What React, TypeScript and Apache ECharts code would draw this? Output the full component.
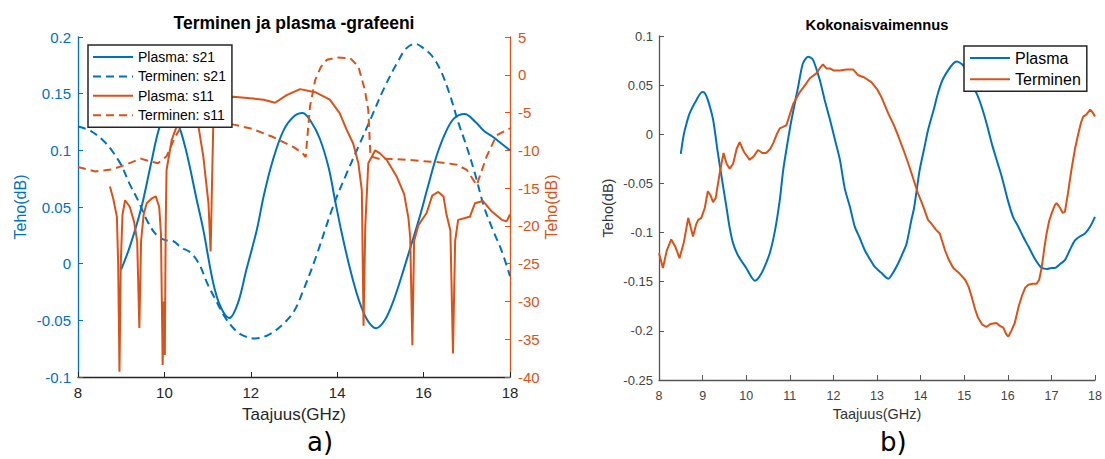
import React, { useEffect, useRef } from 'react';
import * as echarts from 'echarts';

const BLUE = '#0072BD';
const ORANGE = '#D95319';
const DARK = '#262626';
const FONT = '"Liberation Sans", Arial, Helvetica, sans-serif';

// ---------- Chart a) : Terminen ja plasma -grafeeni ----------
const plasmaS21X = [9.0, 9.2, 9.47, 9.7, 9.9, 10.1, 10.3, 10.5, 10.75, 10.9, 11.13, 11.3, 11.5, 11.7, 11.9, 12.14, 12.3, 12.5, 12.75, 13.0, 13.2, 13.4, 13.6, 13.8, 13.95, 14.1, 14.3, 14.5, 14.7, 14.9, 15.1, 15.3, 15.5, 15.7, 15.9, 16.1, 16.3, 16.5, 16.7, 16.95, 17.2, 17.4, 17.6, 17.8, 18.0];
const plasmaS21Y = [-0.005, 0.015, 0.05, 0.09, 0.122, 0.135, 0.125, 0.1, 0.056, 0.03, -0.017, -0.038, -0.048, -0.035, -0.005, 0.03, 0.06, 0.09, 0.117, 0.13, 0.133, 0.125, 0.11, 0.085, 0.056, 0.028, -0.005, -0.032, -0.05, -0.057, -0.05, -0.033, -0.01, 0.015, 0.04, 0.068, 0.095, 0.115, 0.128, 0.132, 0.125, 0.117, 0.112, 0.106, 0.1];

const terminenS21X = [8.0, 8.3, 8.6, 8.8, 9.0, 9.2, 9.4, 9.6, 9.8, 10.0, 10.2, 10.4, 10.6, 10.8, 11.0, 11.2, 11.4, 11.6, 11.8, 12.1, 12.4, 12.7, 13.0, 13.2, 13.5, 13.9, 14.2, 14.5, 14.8, 15.1, 15.4, 15.6, 15.8, 16.0, 16.2, 16.4, 16.6, 16.8, 17.0, 17.2, 17.4, 17.6, 17.8, 18.0];
const terminenS21Y = [0.121, 0.117, 0.108, 0.099, 0.087, 0.07, 0.055, 0.038, 0.026, 0.021, 0.02, 0.014, 0.01, 0.0, -0.018, -0.033, -0.047, -0.057, -0.063, -0.066, -0.063, -0.055, -0.042, -0.025, 0.005, 0.05, 0.078, 0.104, 0.13, 0.156, 0.178, 0.19, 0.194, 0.19, 0.183, 0.17, 0.15, 0.125, 0.103, 0.078, 0.05, 0.03, 0.012, -0.011];

const plasmaS11X = [8.74, 8.82, 8.9, 8.93, 8.96, 8.99, 9.03, 9.09, 9.2, 9.3, 9.37, 9.42, 9.46, 9.52, 9.59, 9.7, 9.8, 9.88, 9.92, 9.96, 9.98, 10.01, 10.03, 10.05, 10.17, 10.28, 10.4, 10.55, 10.7, 10.79, 10.9, 11.02, 11.07, 11.1, 11.13, 11.3, 11.6, 11.98, 12.3, 12.56, 12.83, 13.14, 13.49, 13.83, 14.06, 14.22, 14.37, 14.49, 14.57, 14.61, 14.65, 14.72, 14.88, 14.99, 15.15, 15.38, 15.55, 15.65, 15.69, 15.74, 15.78, 15.88, 16.07, 16.2, 16.34, 16.46, 16.53, 16.62, 16.68, 16.73, 16.8, 17.0, 17.07, 17.19, 17.37, 17.58, 17.81, 17.92, 18.0];
const plasmaS11Y = [-14.8, -16.5, -18.8, -25, -39.3, -25, -18.5, -16.6, -17.5, -19.5, -22, -33.5, -22, -18.5, -17.0, -16.4, -16.1, -17.5, -21, -38.4, -30, -37.1, -20, -12.6, -8.6, -6.9, -5.0, -4.3, -5.5, -6.9, -10.8, -17.0, -23.4, -15, -6.9, -3.5, -2.9, -3.1, -3.3, -3.7, -2.7, -1.9, -2.3, -3.3, -5.1, -7.3, -9.1, -11.7, -15.3, -33.2, -20, -11.7, -10.0, -10.4, -11.3, -13.5, -15.8, -19, -21.5, -35.8, -22, -19.9, -18.3, -16.0, -15.5, -16.1, -18.5, -20.6, -36.9, -22, -19.2, -18.9, -18.8, -17.0, -16.7, -18.1, -19.2, -19.4, -18.5];

const terminenS11X = [8.0, 8.4, 8.8, 9.1, 9.45, 9.7, 9.85, 10.05, 10.25, 10.45, 10.7, 11.0, 11.3, 11.6, 12.0, 12.5, 13.0, 13.2, 13.27, 13.37, 13.49, 13.62, 13.76, 14.0, 14.3, 14.49, 14.64, 14.72, 14.77, 14.95, 15.5, 15.92, 16.4, 16.77, 17.0, 17.23, 17.46, 17.69, 18.0];
const terminenS11Y = [-12.2, -12.8, -12.5, -11.9, -11.1, -11.5, -11.7, -10.8, -8.2, -6.3, -5.6, -5.6, -6.0, -6.6, -7.1, -8.2, -9.6, -10.4, -10.9, -4.2, -0.7, 1.0, 2.0, 2.3, 2.2, 1.1, -2.0, -4.7, -10.8, -11.1, -11.2, -11.4, -11.6, -11.9, -12.6, -14.6, -10.8, -8.0, -7.1];

const leftTicksLeft = { min: -0.1, max: 0.2, interval: 0.05 };
const leftTicksRight = { min: -40, max: 5, interval: 5 };

// ---------- Chart b) : Kokonaisvaimennus ----------
const plasmaTotX = [8.5, 8.55, 8.59, 8.7, 8.86, 8.99, 9.05, 9.12, 9.24, 9.35, 9.47, 9.55, 9.62, 9.7, 9.81, 10.0, 10.2, 10.3, 10.39, 10.54, 10.66, 10.77, 10.85, 10.95, 11.04, 11.19, 11.3, 11.42, 11.53, 11.69, 11.8, 11.92, 12.05, 12.15, 12.26, 12.38, 12.49, 12.6, 12.72, 12.85, 12.95, 13.1, 13.26, 13.38, 13.49, 13.6, 13.68, 13.79, 13.85, 13.98, 14.08, 14.17, 14.3, 14.4, 14.5, 14.63, 14.75, 14.83, 14.98, 15.08, 15.17, 15.3, 15.4, 15.52, 15.63, 15.75, 15.86, 16.0, 16.12, 16.24, 16.35, 16.47, 16.6, 16.7, 16.78, 16.9, 17.0, 17.08, 17.2, 17.31, 17.42, 17.54, 17.65, 17.77, 17.9, 18.0];
const plasmaTotY = [-0.02, -0.005, 0.004, 0.021, 0.035, 0.043, 0.042, 0.035, 0.015, -0.019, -0.053, -0.075, -0.095, -0.111, -0.123, -0.136, -0.149, -0.145, -0.138, -0.121, -0.098, -0.067, -0.036, -0.008, 0.015, 0.048, 0.072, 0.079, 0.076, 0.055, 0.035, 0.015, -0.008, -0.026, -0.055, -0.074, -0.094, -0.105, -0.118, -0.128, -0.135, -0.141, -0.147, -0.14, -0.131, -0.12, -0.111, -0.087, -0.075, -0.036, -0.015, 0.004, 0.025, 0.042, 0.055, 0.065, 0.072, 0.074, 0.07, 0.062, 0.052, 0.04, 0.028, 0.01, -0.009, -0.027, -0.043, -0.067, -0.084, -0.094, -0.104, -0.114, -0.125, -0.132, -0.136, -0.137, -0.136, -0.136, -0.132, -0.128, -0.118, -0.108, -0.104, -0.101, -0.093, -0.084];

const terminenTotX = [8.0, 8.09, 8.18, 8.28, 8.38, 8.47, 8.57, 8.67, 8.73, 8.78, 8.85, 8.9, 8.97, 9.05, 9.12, 9.18, 9.24, 9.3, 9.39, 9.48, 9.55, 9.62, 9.7, 9.78, 9.85, 9.95, 10.08, 10.18, 10.27, 10.37, 10.46, 10.55, 10.62, 10.7, 10.77, 10.92, 11.0, 11.08, 11.23, 11.35, 11.46, 11.61, 11.7, 11.76, 11.84, 11.92, 12.0, 12.15, 12.3, 12.45, 12.57, 12.7, 12.87, 13.0, 13.1, 13.26, 13.38, 13.49, 13.6, 13.72, 13.83, 13.94, 14.05, 14.17, 14.25, 14.35, 14.44, 14.56, 14.65, 14.75, 14.9, 15.02, 15.1, 15.17, 15.25, 15.32, 15.42, 15.51, 15.6, 15.74, 15.82, 15.9, 15.96, 16.01, 16.08, 16.16, 16.25, 16.32, 16.4, 16.47, 16.57, 16.66, 16.72, 16.78, 16.84, 16.89, 16.95, 17.01, 17.08, 17.12, 17.2, 17.26, 17.31, 17.38, 17.46, 17.54, 17.62, 17.68, 17.73, 17.8, 17.89, 17.95, 18.0];
const terminenTotY = [-0.121, -0.136, -0.118, -0.107, -0.115, -0.126, -0.11, -0.085, -0.095, -0.104, -0.092, -0.087, -0.085, -0.075, -0.058, -0.062, -0.069, -0.065, -0.04, -0.019, -0.03, -0.035, -0.03, -0.015, -0.008, -0.018, -0.026, -0.022, -0.016, -0.019, -0.019, -0.015, -0.009, 0.0, 0.006, 0.009, 0.02, 0.031, 0.043, 0.05, 0.057, 0.062, 0.068, 0.071, 0.067, 0.067, 0.065, 0.065, 0.066, 0.066, 0.06, 0.058, 0.053, 0.046, 0.038, 0.021, 0.01, -0.002, -0.015, -0.03, -0.045, -0.06, -0.072, -0.087, -0.091, -0.097, -0.101, -0.118, -0.128, -0.136, -0.142, -0.148, -0.155, -0.165, -0.178, -0.187, -0.194, -0.196, -0.193, -0.192, -0.195, -0.197, -0.203, -0.206, -0.2, -0.192, -0.175, -0.165, -0.156, -0.153, -0.152, -0.152, -0.148, -0.135, -0.115, -0.101, -0.088, -0.08, -0.072, -0.07, -0.075, -0.08, -0.079, -0.06, -0.036, -0.015, 0.001, 0.012, 0.018, 0.02, 0.025, 0.022, 0.018];

const rightTicksY = { min: -0.25, max: 0.1, interval: 0.05 };

const zip = (xs: number[], ys: number[]) => xs.map((x, i) => [x, ys[i]]);
const fmt = (v: number) => String(Math.round(v * 100) / 100);

const hiddenSymbol = { color: 'rgba(0,0,0,0)', borderWidth: 0, opacity: 0 };

export default function App() {
  const ref = useRef<HTMLDivElement>(null);
  useEffect(() => {
    const chart = echarts.init(ref.current!, null, { renderer: 'svg' });
    const option: any = {
      animation: false,
      backgroundColor: '#fff',
      textStyle: { fontFamily: FONT },
      title: [
        { text: 'Terminen ja plasma -grafeeni', left: 294, top: 14, textAlign: 'center', padding: 0,
          textStyle: { fontFamily: FONT, fontSize: 17.5, fontWeight: 'bold', color: '#000' } },
        { text: 'Kokonaisvaimennus', left: 877, top: 17, textAlign: 'center', padding: 0,
          textStyle: { fontFamily: FONT, fontSize: 14.7, fontWeight: 'bold', color: '#000' } },
      ],
      grid: [
        { left: 78, top: 37, width: 432, height: 340 },
        { left: 659, top: 36, width: 436, height: 344 },
      ],
      legend: [
        { data: ['Plasma: s21', 'Terminen: s21', 'Plasma: s11', 'Terminen: s11'], left: 88, top: 45,
          orient: 'vertical', itemWidth: 40, itemHeight: 14, itemGap: 5.4, padding: [5, 6, 5, 4],
          backgroundColor: '#fff', borderColor: DARK, borderWidth: 1.5, selectedMode: false,
          itemStyle: hiddenSymbol,
          textStyle: { fontFamily: FONT, fontSize: 14, color: '#000' } },
        { data: ['Plasma', 'Terminen'], left: 964, top: 46,
          orient: 'vertical', itemWidth: 40, itemHeight: 16, itemGap: 5.3, padding: [4, 6, 4, 5],
          backgroundColor: '#fff', borderColor: DARK, borderWidth: 1.5, selectedMode: false,
          itemStyle: hiddenSymbol,
          textStyle: { fontFamily: FONT, fontSize: 16, color: '#000' } },
      ],
      xAxis: [
        { type: 'value', gridIndex: 0, min: 8, max: 18, interval: 2,
          axisLine: { show: true, onZero: false, lineStyle: { color: DARK, width: 1.3 } },
          axisTick: { show: true, inside: true, length: 5, lineStyle: { color: DARK } },
          axisLabel: { color: DARK, fontSize: 15, margin: 8, fontFamily: FONT },
          splitLine: { show: false },
          name: 'Taajuus(GHz)', nameLocation: 'middle', nameGap: 29,
          nameTextStyle: { color: DARK, fontSize: 17, fontFamily: FONT } },
        { type: 'value', gridIndex: 1, min: 8, max: 18, interval: 1,
          axisLine: { show: true, onZero: false, lineStyle: { color: '#555', width: 1.3 } },
          axisTick: { show: true, inside: true, length: 5, lineStyle: { color: '#555' } },
          axisLabel: { color: '#444', fontSize: 12.5, margin: 9, fontFamily: FONT },
          splitLine: { show: false },
          name: 'Taajuus(GHz)', nameLocation: 'middle', nameGap: 21,
          nameTextStyle: { color: '#333', fontSize: 14.5, fontFamily: FONT } },
      ],
      yAxis: [
        { type: 'value', gridIndex: 0, position: 'left', ...leftTicksLeft,
          axisLine: { show: true, onZero: false, lineStyle: { color: BLUE, width: 1.3 } },
          axisTick: { show: true, inside: true, length: 5, lineStyle: { color: BLUE } },
          axisLabel: { color: BLUE, fontSize: 15, margin: 7, fontFamily: FONT, formatter: fmt },
          splitLine: { show: false },
          name: 'Teho(dB)', nameLocation: 'middle', nameGap: 50,
          nameTextStyle: { color: BLUE, fontSize: 16, fontFamily: FONT } },
        { type: 'value', gridIndex: 0, position: 'right', ...leftTicksRight,
          axisLine: { show: true, onZero: false, lineStyle: { color: ORANGE, width: 1.3 } },
          axisTick: { show: true, inside: true, length: 5, lineStyle: { color: ORANGE } },
          axisLabel: { color: ORANGE, fontSize: 15, margin: 8, fontFamily: FONT },
          splitLine: { show: false },
          name: 'Teho(dB)', nameLocation: 'middle', nameGap: 31,
          nameTextStyle: { color: ORANGE, fontSize: 16, fontFamily: FONT } },
        { type: 'value', gridIndex: 1, position: 'left', ...rightTicksY,
          axisLine: { show: true, onZero: false, lineStyle: { color: '#555', width: 1.3 } },
          axisTick: { show: true, inside: true, length: 5, lineStyle: { color: '#555' } },
          axisLabel: { color: '#444', fontSize: 13, margin: 6, fontFamily: FONT, formatter: fmt },
          splitLine: { show: false },
          name: 'Teho(dB)', nameLocation: 'middle', nameGap: 44,
          nameTextStyle: { color: '#333', fontSize: 14.5, fontFamily: FONT } },
      ],
      series: [
        { name: 'Plasma: s21', type: 'line', xAxisIndex: 0, yAxisIndex: 0, data: zip(plasmaS21X, plasmaS21Y),
          symbol: 'none', smooth: 0.35, color: BLUE, lineStyle: { color: BLUE, width: 2 } },
        { name: 'Terminen: s21', type: 'line', xAxisIndex: 0, yAxisIndex: 0, data: zip(terminenS21X, terminenS21Y),
          symbol: 'none', smooth: 0.35, color: BLUE, lineStyle: { color: BLUE, width: 2, type: [8, 5] } },
        { name: 'Plasma: s11', type: 'line', xAxisIndex: 0, yAxisIndex: 1, data: zip(plasmaS11X, plasmaS11Y),
          symbol: 'none', color: ORANGE, lineStyle: { color: ORANGE, width: 2 } },
        { name: 'Terminen: s11', type: 'line', xAxisIndex: 0, yAxisIndex: 1, data: zip(terminenS11X, terminenS11Y),
          symbol: 'none', color: ORANGE, lineStyle: { color: ORANGE, width: 2, type: [8, 5] } },
        { name: 'Plasma', type: 'line', xAxisIndex: 1, yAxisIndex: 2, data: zip(plasmaTotX, plasmaTotY),
          symbol: 'none', smooth: 0.25, color: BLUE, lineStyle: { color: BLUE, width: 2 } },
        { name: 'Terminen', type: 'line', xAxisIndex: 1, yAxisIndex: 2, data: zip(terminenTotX, terminenTotY),
          symbol: 'none', color: ORANGE, lineStyle: { color: ORANGE, width: 2 } },
      ],
      graphic: [
        { type: 'text', left: 307, top: 429, style: { text: 'a)', fontSize: 26, fontFamily: '"DejaVu Sans", sans-serif', fill: '#000' } },
        { type: 'text', left: 880, top: 429, style: { text: 'b)', fontSize: 26, fontFamily: '"DejaVu Sans", sans-serif', fill: '#000' } },
      ],
    };
    chart.setOption(option);
    return () => chart.dispose();
  }, []);
  return <div ref={ref} style={{ position: 'absolute', left: 0, top: 0, width: 1105, height: 459, background: '#fff' }} />;
}
